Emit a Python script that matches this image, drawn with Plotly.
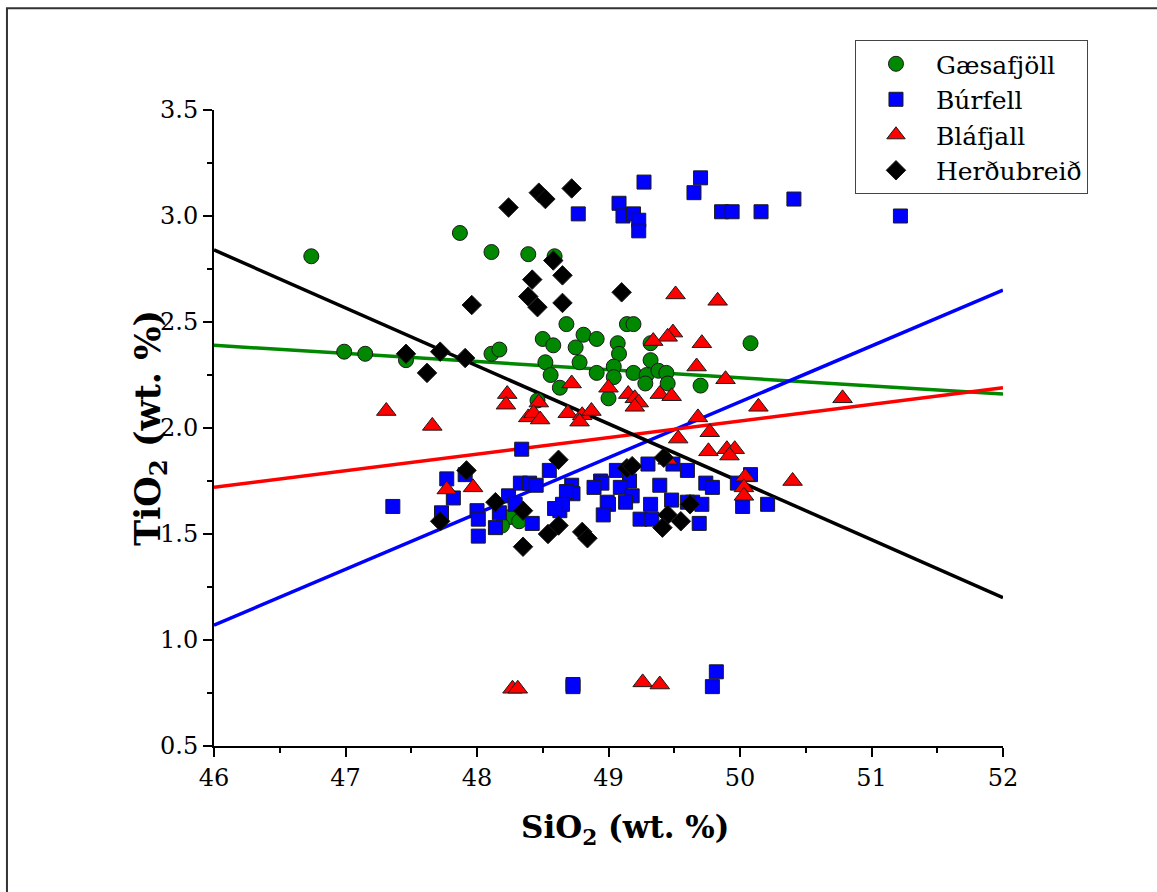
import plotly.graph_objects as go

# --- Gæsafjöll -------------------------------------------------------------
gaesa_sio2 = [46.74, 46.99, 47.15, 47.46, 47.87, 48.11, 48.11, 48.17, 48.39, 48.59,
              48.68, 48.50, 48.58, 48.75, 48.81, 48.91, 49.07, 49.08, 49.14, 49.19,
              49.32, 49.32, 48.52, 48.78, 49.04, 48.56, 48.91, 49.19, 49.29, 49.38,
              49.44, 49.04, 48.63, 48.46, 49.00, 49.28, 49.45, 49.70, 50.08, 48.25,
              48.32, 48.19]
gaesa_tio2 = [2.81, 2.36, 2.35, 2.32, 2.92, 2.83, 2.35, 2.37, 2.82, 2.81,
              2.49, 2.42, 2.39, 2.38, 2.44, 2.42, 2.40, 2.35, 2.49, 2.49,
              2.40, 2.32, 2.31, 2.31, 2.29, 2.25, 2.26, 2.26, 2.25, 2.27,
              2.26, 2.24, 2.19, 2.13, 2.14, 2.21, 2.21, 2.20, 2.40, 1.58,
              1.56, 1.54]

# --- Búrfell ---------------------------------------------------------------
burf_sio2 = [48.77, 49.27, 49.70, 49.65, 49.08, 49.11, 49.19, 49.23, 49.23, 49.86,
             49.94, 50.16, 50.41, 51.22,
             48.73, 48.73, 49.79, 49.82,
             47.36, 47.77, 47.82, 47.73, 47.91, 48.00, 48.01, 48.01, 48.14, 48.17,
             48.24, 48.29, 48.34, 48.33, 48.40, 48.45, 48.42, 48.55, 48.63, 48.72,
             48.73, 48.68, 48.65, 48.59, 48.94, 48.95, 48.89, 49.06, 49.16, 49.09,
             49.18, 48.99, 49.00, 49.13, 48.96, 49.32, 49.24, 49.33, 49.30, 49.49,
             49.60, 49.39, 49.48, 49.64, 49.71, 49.69, 49.74, 49.79, 50.08, 49.98,
             50.02, 50.21, 49.60]
burf_tio2 = [3.01, 3.16, 3.18, 3.11, 3.06, 3.00, 3.01, 2.98, 2.93, 3.02,
             3.02, 3.02, 3.08, 3.00,
             0.78, 0.79, 0.78, 0.85,
             1.63, 1.76, 1.67, 1.60, 1.78, 1.61, 1.57, 1.49, 1.53, 1.60,
             1.68, 1.64, 1.90, 1.74, 1.74, 1.73, 1.55, 1.80, 1.61, 1.73,
             1.69, 1.70, 1.64, 1.62, 1.75, 1.74, 1.72, 1.80, 1.75, 1.72,
             1.68, 1.65, 1.64, 1.65, 1.59, 1.64, 1.57, 1.57, 1.83, 1.83,
             1.80, 1.73, 1.66, 1.65, 1.64, 1.55, 1.74, 1.72, 1.78, 1.74,
             1.63, 1.64, 1.65]

# --- Bláfjall --------------------------------------------------------------
blaf_sio2 = [47.31, 47.66, 47.77, 47.97, 48.23, 48.22, 48.47, 48.39, 48.43, 48.48,
             48.72, 49.00, 49.15, 49.20, 49.23, 49.20, 49.39, 49.48, 49.51, 49.83,
             49.49, 49.45, 49.34, 49.71, 49.67, 49.89, 50.14, 50.78, 48.69, 48.80,
             48.78, 48.87, 49.68, 49.77, 49.53, 49.76, 49.90, 49.96, 49.92, 50.04,
             50.03, 50.03, 50.40, 49.45,
             48.27, 48.31, 49.26, 49.39]
blaf_tio2 = [2.08, 2.01, 1.71, 1.72, 2.16, 2.11, 2.12, 2.05, 2.07, 2.04,
             2.21, 2.19, 2.16, 2.14, 2.12, 2.10, 2.16, 2.15, 2.63, 2.60,
             2.45, 2.43, 2.41, 2.40, 2.29, 2.23, 2.10, 2.14, 2.07, 2.06,
             2.03, 2.08, 2.05, 1.98, 1.95, 1.89, 1.90, 1.90, 1.87, 1.77,
             1.72, 1.68, 1.75, 1.85,
             0.77, 0.77, 0.80, 0.79]

# --- Herðubreið ------------------------------------------------------------
herd_sio2 = [48.24, 48.47, 48.52, 48.72, 48.58, 48.65, 48.42, 48.39, 48.46, 48.65,
             49.10, 47.96, 47.46, 47.72, 47.91, 47.62, 47.92, 47.72, 48.14, 48.35,
             48.35, 48.54, 48.62, 49.14, 49.18, 49.42, 49.62, 49.45, 49.55, 49.41,
             48.62, 48.80, 48.84]
herd_tio2 = [3.04, 3.11, 3.08, 3.13, 2.79, 2.72, 2.70, 2.62, 2.57, 2.59,
             2.64, 2.58, 2.35, 2.36, 2.33, 2.26, 1.80, 1.56, 1.65, 1.61,
             1.44, 1.50, 1.85, 1.81, 1.82, 1.86, 1.64, 1.59, 1.56, 1.53,
             1.54, 1.51, 1.48]

# --- Linear trends (end points across the SiO2 range) ----------------------
trend_sio2 = [46.0, 52.0]
trend_gaesa = [2.39, 2.16]
trend_burf = [1.07, 2.65]
trend_blaf = [1.72, 2.19]
trend_herd = [2.84, 1.20]

names = ["Gæsafjöll", "Búrfell", "Bláfjall", "Herðubreið"]
colors = ["#008800", "#0000ff", "#ff0000", "#000000"]
symbols = ["circle", "square", "triangle-up", "diamond"]
sizes = [15, 14, 17, 15]

series = [(gaesa_sio2, gaesa_tio2), (burf_sio2, burf_tio2),
          (blaf_sio2, blaf_tio2), (herd_sio2, herd_tio2)]
trends = [trend_gaesa, trend_burf, trend_blaf, trend_herd]

SERIF = "DejaVu Serif, Liberation Serif, serif"

fig = go.Figure()

# Trend lines underneath the symbols
for name, col, tr in zip(names, colors, trends):
    fig.add_trace(go.Scatter(
        x=trend_sio2, y=tr, mode="lines",
        line=dict(color=col, width=3.5),
        showlegend=False, hoverinfo="skip",
    ))

for i, (name, col, sym, sz, (xs, ys)) in enumerate(
        zip(names, colors, symbols, sizes, series)):
    fig.add_trace(go.Scatter(
        x=xs, y=ys, mode="markers", name=name,
        legendgroup=f"g{i}",
        marker=dict(color=col, symbol=sym, size=sz,
                    line=dict(color="#1a1a1a", width=1)),
    ))

axis_common = dict(
    showline=True, linecolor="black", linewidth=2,
    ticks="outside", ticklen=9, tickwidth=2, tickcolor="black",
    showgrid=False, zeroline=False, mirror=False,
    tickfont=dict(family=SERIF, size=24, color="black"),
)

fig.update_xaxes(
    range=[46, 52], tickmode="array", tickvals=[46, 47, 48, 49, 50, 51, 52],
    minor=dict(ticks="outside", ticklen=5, tickwidth=2, tickcolor="black",
               dtick=0.5, showgrid=False),
    **axis_common,
)
fig.update_yaxes(
    range=[0.5, 3.5], tickmode="array",
    tickvals=[0.5, 1.0, 1.5, 2.0, 2.5, 3.0, 3.5],
    ticktext=["0.5", "1.0", "1.5", "2.0", "2.5", "3.0", "3.5"],
    minor=dict(ticks="outside", ticklen=5, tickwidth=2, tickcolor="black",
               dtick=0.25, showgrid=False),
    **axis_common,
)

# Axis titles
fig.add_annotation(
    text="<b>SiO<sub>2</sub> (wt. %)</b>",
    xref="paper", yref="paper", x=0.521, y=-0.132,
    xanchor="center", yanchor="middle", showarrow=False,
    font=dict(family=SERIF, size=31, color="black"),
)
fig.add_annotation(
    text="<b>TiO<sub>2</sub> (wt. %)</b>", textangle=-90,
    xref="paper", yref="paper", x=-0.081, y=0.5,
    xanchor="center", yanchor="middle", showarrow=False,
    font=dict(family=SERIF, size=35, color="black"),
)

# Outer frame around the whole figure
fig.add_shape(type="rect", xref="paper", yref="paper",
              x0=-0.2624, x1=1.25, y0=-0.25, y1=1.160,
              line=dict(color="#333333", width=2), layer="below")

fig.update_layout(
    width=1157, height=892,
    margin=dict(l=214, r=154, t=110, b=146),
    paper_bgcolor="white", plot_bgcolor="white",
    showlegend=True,
    legend=dict(
        x=0.8124, y=1.110, xanchor="left", yanchor="top",
        bgcolor="white", bordercolor="#444444", borderwidth=1,
        font=dict(family=SERIF, size=25, color="black"),
        itemwidth=70, tracegroupgap=5, traceorder="normal",
    ),
)

fig.write_html("out.html")
